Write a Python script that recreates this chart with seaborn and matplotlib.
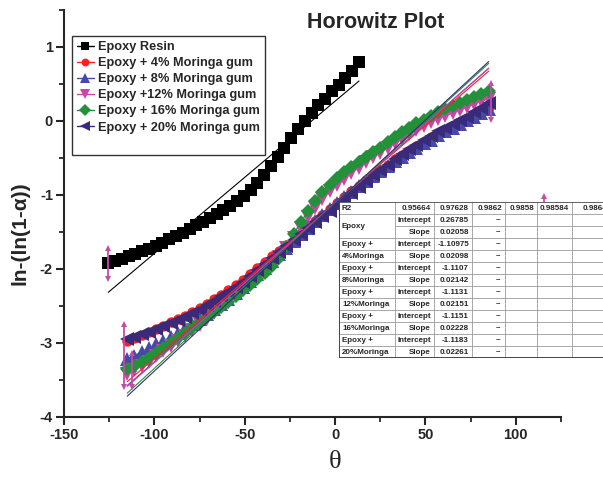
import numpy as np
import matplotlib
matplotlib.use('Agg')
import matplotlib.pyplot as plt
import matplotlib.ticker as ticker
from matplotlib.lines import Line2D
from matplotlib.patches import Rectangle
import seaborn as sns

# ---------------- data ----------------
theta_resin = [-125.5, -121.75, -118.0, -114.25, -110.5, -106.75, -103.0, -99.25, -95.5, -91.75,
               -88.0, -84.25, -80.5, -76.75, -73.0, -69.25, -65.5, -61.75, -58.0, -54.25,
               -50.5, -46.75, -43.0, -39.25, -35.5, -31.75, -28.0, -24.25, -20.5, -16.75,
               -13.0, -9.25, -5.5, -1.75, 2.0, 5.75, 9.5, 13.25]
y_resin = [-1.92, -1.89, -1.86, -1.83, -1.80, -1.76, -1.73, -1.69, -1.65, -1.60,
           -1.55, -1.51, -1.46, -1.41, -1.36, -1.31, -1.26, -1.20, -1.15, -1.08,
           -1.01, -0.93, -0.84, -0.73, -0.61, -0.49, -0.36, -0.23, -0.11, 0.00,
           0.11, 0.21, 0.30, 0.40, 0.49, 0.58, 0.68, 0.80]

theta = [-115, -111, -107, -103, -99, -95, -91, -87, -83, -79,
         -75, -71, -67, -63, -59, -55, -51, -47, -43, -39,
         -35, -31, -27, -23, -19, -15, -11, -7, -3, 1,
         5, 9, 13, 17, 21, 25, 29, 33, 37, 41,
         45, 49, 53, 57, 61, 65, 69, 73, 77, 81, 85]
y_4 = [-2.97, -2.93, -2.89, -2.85, -2.81, -2.77, -2.72, -2.68, -2.63, -2.58,
       -2.53, -2.47, -2.41, -2.35, -2.29, -2.22, -2.15, -2.07, -1.99, -1.91,
       -1.83, -1.75, -1.67, -1.59, -1.51, -1.43, -1.35, -1.27, -1.19, -1.11,
       -1.03, -0.95, -0.88, -0.80, -0.73, -0.66, -0.59, -0.52, -0.46, -0.40,
       -0.34, -0.28, -0.22, -0.17, -0.12, -0.07, -0.02, 0.03, 0.08, 0.13, 0.19]
y_8 = [-3.21, -3.17, -3.12, -3.07, -3.02, -2.97, -2.92, -2.86, -2.80, -2.74,
       -2.68, -2.61, -2.54, -2.47, -2.40, -2.32, -2.24, -2.16, -2.07, -1.98,
       -1.89, -1.80, -1.71, -1.62, -1.53, -1.44, -1.35, -1.27, -1.19, -1.11,
       -1.03, -0.96, -0.88, -0.81, -0.74, -0.67, -0.61, -0.54, -0.48, -0.42,
       -0.36, -0.30, -0.25, -0.19, -0.14, -0.09, -0.04, 0.01, 0.06, 0.11, 0.16]
y_12 = [-3.42, -3.37, -3.31, -3.25, -3.18, -3.11, -3.04, -2.97, -2.90, -2.82,
        -2.75, -2.67, -2.60, -2.52, -2.45, -2.37, -2.29, -2.21, -2.12, -2.03,
        -1.94, -1.84, -1.72, -1.58, -1.44, -1.30, -1.17, -1.05, -0.95, -0.86,
        -0.78, -0.70, -0.63, -0.56, -0.49, -0.43, -0.36, -0.30, -0.24, -0.18,
        -0.12, -0.07, -0.02, 0.03, 0.07, 0.11, 0.15, 0.19, 0.23, 0.27, 0.30]
y_16 = [-3.35, -3.31, -3.26, -3.20, -3.13, -3.07, -3.00, -2.93, -2.86, -2.79,
        -2.72, -2.65, -2.58, -2.51, -2.44, -2.37, -2.29, -2.21, -2.13, -2.05,
        -1.96, -1.85, -1.70, -1.53, -1.37, -1.22, -1.08, -0.96, -0.86, -0.77,
        -0.69, -0.62, -0.55, -0.49, -0.42, -0.36, -0.29, -0.22, -0.15, -0.09,
        -0.03, 0.02, 0.07, 0.12, 0.16, 0.20, 0.24, 0.28, 0.32, 0.36, 0.40]
y_20 = [-2.95, -2.92, -2.88, -2.85, -2.81, -2.77, -2.73, -2.69, -2.65, -2.60,
        -2.55, -2.49, -2.43, -2.37, -2.31, -2.24, -2.17, -2.09, -2.01, -1.93,
        -1.85, -1.77, -1.69, -1.61, -1.53, -1.45, -1.37, -1.29, -1.21, -1.13,
        -1.05, -0.97, -0.89, -0.81, -0.73, -0.66, -0.59, -0.52, -0.45, -0.38,
        -0.32, -0.26, -0.20, -0.14, -0.09, -0.04, 0.01, 0.06, 0.12, 0.18, 0.25]

labels = ['Epoxy Resin', 'Epoxy + 4% Moringa gum', 'Epoxy + 8% Moringa gum',
          'Epoxy +12% Moringa gum', 'Epoxy + 16% Moringa gum', 'Epoxy + 20% Moringa gum']

# linear fits (from the inset table)
fit_intercept = [0.26785, -1.10975, -1.1107, -1.1131, -1.1151, -1.1183]
fit_slope = [0.02058, 0.02098, 0.02142, 0.02151, 0.02228, 0.02261]

# magenta error bars
err_x = [-125.5, -117, -112.6, 86.2, 115.7]
err_y = [-1.92, -3.17, -3.37, 0.26, -1.15]
err_h = [0.21, 0.43, 0.23, 0.25, 0.14]

# inset table text
r2_values = ['0.95664', '0.97628', '0.9862', '0.9858', '0.98584', '0.9864']
row_names = ['Epoxy +', '4%Moringa', 'Epoxy +', '8%Moringa', 'Epoxy +', '12%Moringa',
             'Epoxy +', '16%Moringa', 'Epoxy +', '20%Moringa']
param_names = ['Intercept', 'Slope'] * 6
param_values = ['0.26785', '0.02058', '-1.10975', '0.02098', '-1.1107', '0.02142',
                '-1.1131', '0.02151', '-1.1151', '0.02228', '-1.1183', '0.02261']

# ---------------- style ----------------
sns.set_style('ticks')
plt.rcParams['font.family'] = ['Liberation Sans', 'DejaVu Sans']
plt.rcParams['font.weight'] = 'bold'
plt.rcParams['axes.unicode_minus'] = False

colors = ['black', '#ff1f1f', '#4848a8', '#cc44aa', '#23903a', '#3a2a7a']
markers = ['s', 'o', '^', 'v', 'D', '<']
msizes = [8, 7.5, 9.5, 9.5, 7.5, 9.5]

fig = plt.figure(figsize=(6.03, 4.8), dpi=100)
ax = fig.add_axes([64/603, 1-417/480, 497/603, 407/480])

series = [(theta_resin, y_resin)] + [(theta, y) for y in (y_4, y_8, y_12, y_16, y_20)]
for i, (xs, ys) in enumerate(series):
    sns.lineplot(x=xs, y=ys, ax=ax, color=colors[i], marker=markers[i], markersize=msizes[i],
                 markeredgewidth=0, linewidth=1, sort=False, label=labels[i], zorder=2+i)

# fit lines
for i, (xs, ys) in enumerate(series):
    fx = np.array([xs[0], xs[-1]])
    fy = fit_intercept[i] + fit_slope[i]*fx
    sns.lineplot(x=fx, y=fy, ax=ax, color=colors[i], linewidth=0.8, legend=False, zorder=9)

# magenta error bars
ex, ey, eh = np.array(err_x), np.array(err_y), np.array(err_h)
ax.vlines(ex, ey - eh, ey + eh, color='#c84aa8', linewidth=1.3, zorder=10)
ax.plot(ex, ey + eh, '^', color='#c84aa8', ms=5, mew=0, zorder=10)
ax.plot(ex, ey - eh, 'v', color='#c84aa8', ms=5, mew=0, zorder=10)

ax.set_xlim(-150, 125)
ax.set_ylim(-4, 1.5)
ax.xaxis.set_major_locator(ticker.MultipleLocator(50))
ax.xaxis.set_minor_locator(ticker.MultipleLocator(25))
ax.yaxis.set_major_locator(ticker.MultipleLocator(1))
ax.yaxis.set_minor_locator(ticker.MultipleLocator(0.5))
ax.tick_params(which='major', direction='out', length=6, width=1.5, labelsize=10.5, pad=2)
ax.tick_params(which='minor', direction='out', length=3.5, width=1.3)
for s in ['top', 'right']:
    ax.spines[s].set_visible(False)
for s in ['left', 'bottom']:
    ax.spines[s].set_linewidth(1.5)
ax.set_xlabel('')
ax.set_ylabel('')

# legend with empty bottom space like the original
handles, labs = ax.get_legend_handles_labels()
handles.append(Line2D([], [], color='none'))
labs.append(' ')
leg = ax.legend(handles, labs, loc='upper left', bbox_to_anchor=(8/497, (417-36)/407),
                borderaxespad=0, frameon=True, fancybox=False, framealpha=1,
                edgecolor='#333333', fontsize=9.2, handlelength=1.3, handletextpad=0.3,
                labelspacing=0.32, markerscale=0.75, borderpad=0.4)
leg.get_frame().set_linewidth(1)

fig.text(376/603, 1-23/480, 'Horowitz Plot', fontsize=15.5, fontweight='bold', ha='center', va='center')
fig.text(20/603, 1-233/480, 'ln-(ln(1-α))', fontsize=15, fontweight='bold', rotation=90,
         ha='center', va='center')
fig.text(335/603, 1-462/480, 'θ', fontsize=19, fontweight='normal', ha='center', va='center',
         family=['Liberation Serif', 'DejaVu Serif'])

# ---------------- inset table ----------------
col_edges = [0, 56, 95, 133, 166, 198, 233, 271]
nrows = 13
tab = fig.add_axes([339/603, 1-358/480, 276/603, 156/480])
tab.set_xlim(0, 276)
tab.set_ylim(nrows, 0)
tab.axis('off')
tab.add_patch(Rectangle((0, 0), col_edges[-1], nrows, facecolor='white', edgecolor='none', zorder=0))
for r in range(1, nrows):
    if r == 2:
        tab.plot([col_edges[1], col_edges[-1]], [r, r], color='#9a9a9a', lw=0.6)
    else:
        tab.plot([0, col_edges[-1]], [r, r], color='#9a9a9a', lw=0.6)
for c in col_edges[1:-1]:
    tab.plot([c, c], [0, nrows], color='#9a9a9a', lw=0.6)
tab.plot([0, col_edges[-1]], [0, 0], color='#444444', lw=1.2)
tab.plot([0, col_edges[-1]], [nrows, nrows], color='#444444', lw=1.4)
tab.plot([0, 0], [0, nrows], color='#444444', lw=1.4)

tfs = 5.8
tab.text(3, 0.5, 'R2', fontsize=tfs, va='center', ha='left')
for k, v in enumerate(r2_values):
    tab.text(col_edges[k+2]-3, 0.5, v, fontsize=tfs, va='center', ha='right')
tab.text(3, 2, 'Epoxy', fontsize=tfs, va='center', ha='left')
for k, name in enumerate(row_names):
    tab.text(3, 3.5+k, name, fontsize=tfs, va='center', ha='left')
for k in range(12):
    tab.text(col_edges[2]-3, 1.5+k, param_names[k], fontsize=tfs, va='center', ha='right')
    tab.text(col_edges[3]-3, 1.5+k, param_values[k], fontsize=tfs, va='center', ha='right')
    tab.text(col_edges[4]-5, 1.5+k, '–', fontsize=tfs, va='center', ha='right')

fig.savefig('out.png', dpi=100)
